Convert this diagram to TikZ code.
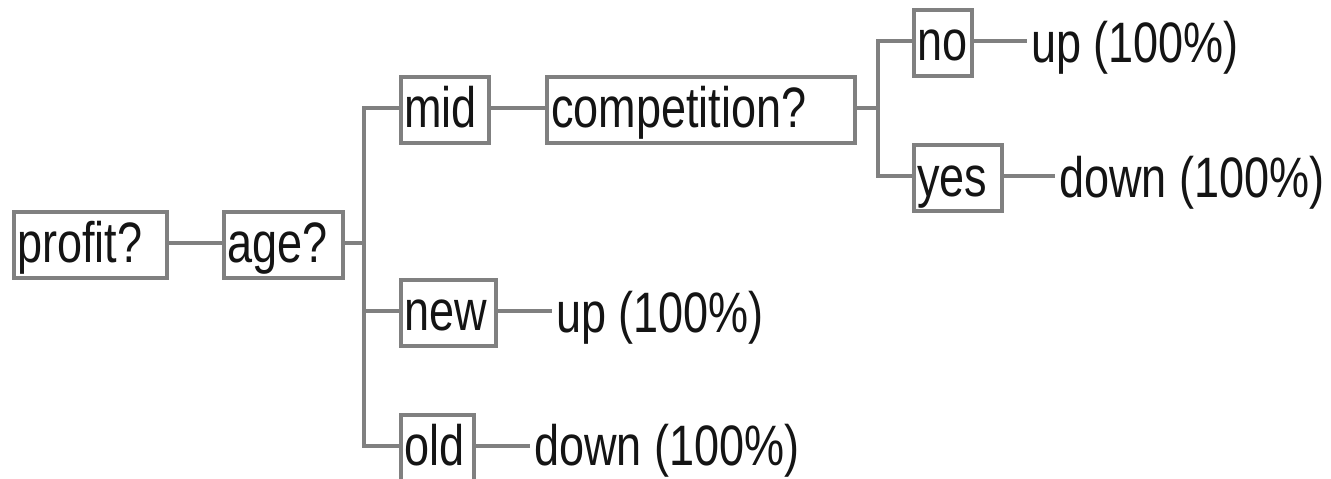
\documentclass[tikz,border=0pt]{standalone}
\usepackage{fontspec}
\setmainfont[FakeStretch=0.79]{Liberation Sans}
\definecolor{linegray}{RGB}{128,128,128}
\definecolor{inkblack}{RGB}{20,20,20}
\begin{document}
\begin{tikzpicture}[x=1pt,y=1pt,
  txt/.style={font=\fontsize{57pt}{60pt}\selectfont, text=inkblack},
  box/.style={txt, draw=linegray, line width=4pt, inner sep=0pt,
              text height=51pt, text depth=15pt, anchor=west},
  leaf/.style={txt, inner xsep=4pt, inner ysep=0pt, anchor=base west},
  conn/.style={draw=linegray, line width=4pt, line join=miter}]
\useasboundingbox[fill=white] (0,0) rectangle (1331,-479);
% boxes
\node[box] (profit) at (12,-244.5) {\makebox[153pt][l]{\hspace{3pt}profit?}};
\node[box] (age)    at (222,-244.5) {\makebox[119pt][l]{\hspace{3pt}age?}};
\node[box] (mid)    at (399,-109.5) {\makebox[88pt][l]{\hspace{3pt}mid}};
\node[box] (comp)   at (545,-109.5) {\makebox[308pt][l]{\hspace{4pt}competition?}};
\node[box] (new)    at (399,-312.5) {\makebox[95pt][l]{\hspace{3pt}new}};
\node[box] (old)    at (399,-447.5) {\makebox[73pt][l]{\hspace{3pt}old}};
\node[box] (no)     at (912,-42.5) {\makebox[58pt][l]{\hspace{3pt}no}};
\node[box] (yes)    at (912,-178) {\makebox[88pt][l]{\hspace{3pt}yes}};
% leaves
\node[leaf] (up1)   at (1027,-62) {up (100\%)};
\node[leaf] (down1) at (1055,-197) {down (100\%)};
\node[leaf] (up2)   at (552,-332) {up (100\%)};
\node[leaf] (down2) at (530,-465) {down (100\%)};
% junctions
\coordinate (j1) at (364,-242.5);
\coordinate (j2) at (878,-107.5);
% connectors
\draw[conn] ([yshift=2pt]profit.east) -- ([yshift=2pt]age.west);
\draw[conn] ([yshift=2pt]age.east) -- (j1);
\draw[conn] ([yshift=2pt]mid.west) -| (j1) |- ([yshift=2pt]old.west);
\draw[conn] ([yshift=2pt]new.west) -- ([yshift=2pt]new.west -| j1);
\draw[conn] ([yshift=2pt]mid.east) -- ([yshift=2pt]comp.west);
\draw[conn] ([yshift=2pt]comp.east) -- (j2);
\draw[conn] ([yshift=2pt]no.west) -| (j2) |- ([yshift=2pt]yes.west);
\draw[conn] ([yshift=2pt]no.east) -- ([yshift=2pt]no.east -| up1.west);
\draw[conn] ([yshift=2pt]yes.east) -- ([yshift=2pt]yes.east -| down1.west);
\draw[conn] ([yshift=2pt]new.east) -- ([yshift=2pt]new.east -| up2.west);
\draw[conn] ([yshift=2pt]old.east) -- ([yshift=2pt]old.east -| down2.west);
\end{tikzpicture}
\end{document}
